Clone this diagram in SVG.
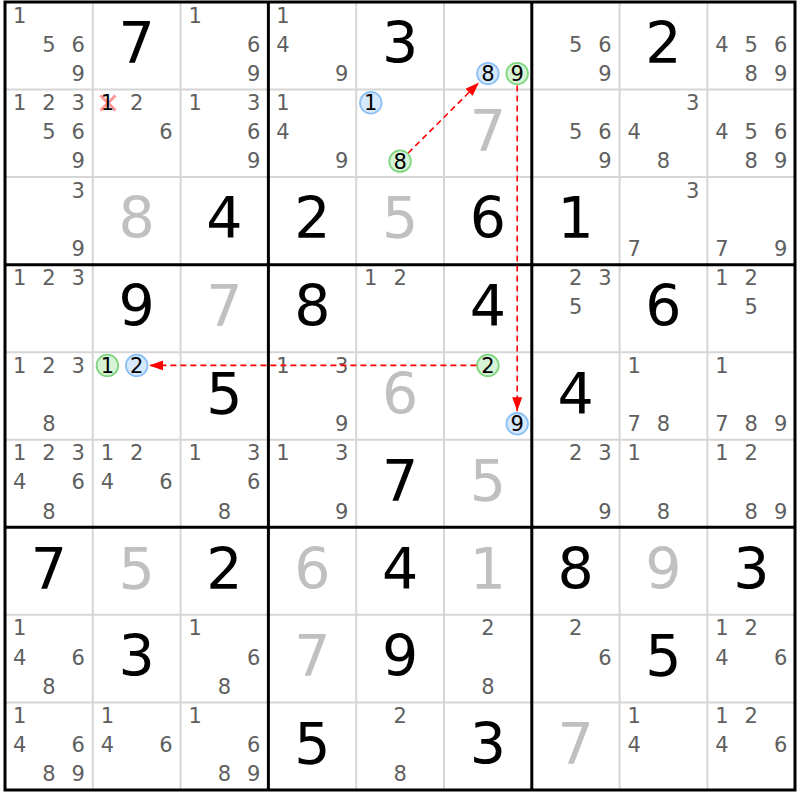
<svg xmlns="http://www.w3.org/2000/svg" width="800" height="800" viewBox="0 0 800 800">
<defs>
<style>
text{font-family:"DejaVu Sans",Verdana,sans-serif;text-anchor:middle}
.g{font-size:57px;fill:#000}
.s{font-size:57px;fill:#c0c0c0}
.c{font-size:21px;fill:#5f5f5f}
.k{font-size:21px;fill:#000}
.thin{stroke:#d6d6d6;stroke-width:2}
.thick{stroke:#000;stroke-width:3}
.cb{fill:#d6e9fc;stroke:#8cc0f4;stroke-width:1.8}
.cg{fill:#d6f3d6;stroke:#80d680;stroke-width:1.8}
.arr{fill:none;stroke:#ff0000;stroke-width:1.6;stroke-dasharray:6,4;marker-end:url(#ah)}
</style>
<marker id="ah" viewBox="0 0 14 10" refX="14" refY="5" markerWidth="14" markerHeight="10" markerUnits="userSpaceOnUse" orient="auto">
<path d="M0,0 L14,5 L0,10 z" fill="#ff0000"/>
</marker>
</defs>
<rect x="0" y="0" width="800" height="800" fill="#fff"/>
<g id="grid">
<path class="thin" d="M92.8,2V790M180.6,2V790M356.2,2V790M444,2V790M619.6,2V790M707.4,2V790M5,89.55H795M5,177.1H795M5,352.2H795M5,439.75H795M5,614.85H795M5,702.4H795"/>
<path class="thick" fill="none" d="M268.4,2V790M531.8,2V790M5,264.65H795M5,527.3H795"/>
<rect class="thick" fill="none" x="5" y="2" width="790" height="788"/>
</g>
<g id="r0">
<g id="r0c0"><text class="c" x="19.6" y="22.5">1</text><text class="c" x="48.9" y="51.7">5</text><text class="c" x="78.2" y="51.7">6</text><text class="c" x="78.2" y="80.9">9</text></g>
<g id="r0c1"><text class="g" x="136.7" y="63.3">7</text></g>
<g id="r0c2"><text class="c" x="195.2" y="22.5">1</text><text class="c" x="253.8" y="51.7">6</text><text class="c" x="253.8" y="80.9">9</text></g>
<g id="r0c3"><text class="c" x="283" y="22.5">1</text><text class="c" x="283" y="51.7">4</text><text class="c" x="341.6" y="80.9">9</text></g>
<g id="r0c4"><text class="g" x="400.1" y="63.3">3</text></g>
<g id="r0c5"><circle class="cb" cx="487.9" cy="73.6" r="10.8"/><text class="k" x="487.9" y="81.2">8</text><circle class="cg" cx="517.2" cy="73.6" r="10.8"/><text class="k" x="517.2" y="81.2">9</text></g>
<g id="r0c6"><text class="c" x="575.7" y="51.7">5</text><text class="c" x="605" y="51.7">6</text><text class="c" x="605" y="80.9">9</text></g>
<g id="r0c7"><text class="g" x="663.5" y="63.3">2</text></g>
<g id="r0c8"><text class="c" x="722" y="51.7">4</text><text class="c" x="751.3" y="51.7">5</text><text class="c" x="780.6" y="51.7">6</text><text class="c" x="751.3" y="80.9">8</text><text class="c" x="780.6" y="80.9">9</text></g>
</g>
<g id="r1">
<g id="r1c0"><text class="c" x="19.6" y="110.05">1</text><text class="c" x="48.9" y="110.05">2</text><text class="c" x="78.2" y="110.05">3</text><text class="c" x="48.9" y="139.25">5</text><text class="c" x="78.2" y="139.25">6</text><text class="c" x="78.2" y="168.45">9</text></g>
<g id="r1c1"><path d="M100.5,95.5L115.5,110.5M115.5,95.5L100.5,110.5" stroke="#ff8c8c" stroke-width="3" stroke-opacity="0.9"/><text class="k" x="107.4" y="110.05">1</text><text class="c" x="136.7" y="110.05">2</text><text class="c" x="166" y="139.25">6</text></g>
<g id="r1c2"><text class="c" x="195.2" y="110.05">1</text><text class="c" x="253.8" y="110.05">3</text><text class="c" x="253.8" y="139.25">6</text><text class="c" x="253.8" y="168.45">9</text></g>
<g id="r1c3"><text class="c" x="283" y="110.05">1</text><text class="c" x="283" y="139.25">4</text><text class="c" x="341.6" y="168.45">9</text></g>
<g id="r1c4"><circle class="cb" cx="370.8" cy="102.75" r="10.8"/><text class="k" x="370.8" y="110.35">1</text><circle class="cg" cx="400.1" cy="161.15" r="10.8"/><text class="k" x="400.1" y="168.75">8</text></g>
<g id="r1c5"><text class="s" x="487.9" y="150.85">7</text></g>
<g id="r1c6"><text class="c" x="575.7" y="139.25">5</text><text class="c" x="605" y="139.25">6</text><text class="c" x="605" y="168.45">9</text></g>
<g id="r1c7"><text class="c" x="692.8" y="110.05">3</text><text class="c" x="634.2" y="139.25">4</text><text class="c" x="663.5" y="168.45">8</text></g>
<g id="r1c8"><text class="c" x="722" y="139.25">4</text><text class="c" x="751.3" y="139.25">5</text><text class="c" x="780.6" y="139.25">6</text><text class="c" x="751.3" y="168.45">8</text><text class="c" x="780.6" y="168.45">9</text></g>
</g>
<g id="r2">
<g id="r2c0"><text class="c" x="78.2" y="197.6">3</text><text class="c" x="78.2" y="256">9</text></g>
<g id="r2c1"><text class="s" x="136.7" y="238.4">8</text></g>
<g id="r2c2"><text class="g" x="224.5" y="238.4">4</text></g>
<g id="r2c3"><text class="g" x="312.3" y="238.4">2</text></g>
<g id="r2c4"><text class="s" x="400.1" y="238.4">5</text></g>
<g id="r2c5"><text class="g" x="487.9" y="238.4">6</text></g>
<g id="r2c6"><text class="g" x="575.7" y="238.4">1</text></g>
<g id="r2c7"><text class="c" x="692.8" y="197.6">3</text><text class="c" x="634.2" y="256">7</text></g>
<g id="r2c8"><text class="c" x="722" y="256">7</text><text class="c" x="780.6" y="256">9</text></g>
</g>
<g id="r3">
<g id="r3c0"><text class="c" x="19.6" y="285.15">1</text><text class="c" x="48.9" y="285.15">2</text><text class="c" x="78.2" y="285.15">3</text></g>
<g id="r3c1"><text class="g" x="136.7" y="325.95">9</text></g>
<g id="r3c2"><text class="s" x="224.5" y="325.95">7</text></g>
<g id="r3c3"><text class="g" x="312.3" y="325.95">8</text></g>
<g id="r3c4"><text class="c" x="370.8" y="285.15">1</text><text class="c" x="400.1" y="285.15">2</text></g>
<g id="r3c5"><text class="g" x="487.9" y="325.95">4</text></g>
<g id="r3c6"><text class="c" x="575.7" y="285.15">2</text><text class="c" x="605" y="285.15">3</text><text class="c" x="575.7" y="314.35">5</text></g>
<g id="r3c7"><text class="g" x="663.5" y="325.95">6</text></g>
<g id="r3c8"><text class="c" x="722" y="285.15">1</text><text class="c" x="751.3" y="285.15">2</text><text class="c" x="751.3" y="314.35">5</text></g>
</g>
<g id="r4">
<g id="r4c0"><text class="c" x="19.6" y="372.7">1</text><text class="c" x="48.9" y="372.7">2</text><text class="c" x="78.2" y="372.7">3</text><text class="c" x="48.9" y="431.1">8</text></g>
<g id="r4c1"><circle class="cg" cx="107.4" cy="365.4" r="10.8"/><text class="k" x="107.4" y="373">1</text><circle class="cb" cx="136.7" cy="365.4" r="10.8"/><text class="k" x="136.7" y="373">2</text></g>
<g id="r4c2"><text class="g" x="224.5" y="413.5">5</text></g>
<g id="r4c3"><text class="c" x="283" y="372.7">1</text><text class="c" x="341.6" y="372.7">3</text><text class="c" x="341.6" y="431.1">9</text></g>
<g id="r4c4"><text class="s" x="400.1" y="413.5">6</text></g>
<g id="r4c5"><circle class="cg" cx="487.9" cy="365.4" r="10.8"/><text class="k" x="487.9" y="373">2</text><circle class="cb" cx="517.2" cy="423.8" r="10.8"/><text class="k" x="517.2" y="431.4">9</text></g>
<g id="r4c6"><text class="g" x="575.7" y="413.5">4</text></g>
<g id="r4c7"><text class="c" x="634.2" y="372.7">1</text><text class="c" x="634.2" y="431.1">7</text><text class="c" x="663.5" y="431.1">8</text></g>
<g id="r4c8"><text class="c" x="722" y="372.7">1</text><text class="c" x="722" y="431.1">7</text><text class="c" x="751.3" y="431.1">8</text><text class="c" x="780.6" y="431.1">9</text></g>
</g>
<g id="r5">
<g id="r5c0"><text class="c" x="19.6" y="460.25">1</text><text class="c" x="48.9" y="460.25">2</text><text class="c" x="78.2" y="460.25">3</text><text class="c" x="19.6" y="489.45">4</text><text class="c" x="78.2" y="489.45">6</text><text class="c" x="48.9" y="518.65">8</text></g>
<g id="r5c1"><text class="c" x="107.4" y="460.25">1</text><text class="c" x="136.7" y="460.25">2</text><text class="c" x="107.4" y="489.45">4</text><text class="c" x="166" y="489.45">6</text></g>
<g id="r5c2"><text class="c" x="195.2" y="460.25">1</text><text class="c" x="253.8" y="460.25">3</text><text class="c" x="253.8" y="489.45">6</text><text class="c" x="224.5" y="518.65">8</text></g>
<g id="r5c3"><text class="c" x="283" y="460.25">1</text><text class="c" x="341.6" y="460.25">3</text><text class="c" x="341.6" y="518.65">9</text></g>
<g id="r5c4"><text class="g" x="400.1" y="501.05">7</text></g>
<g id="r5c5"><text class="s" x="487.9" y="501.05">5</text></g>
<g id="r5c6"><text class="c" x="575.7" y="460.25">2</text><text class="c" x="605" y="460.25">3</text><text class="c" x="605" y="518.65">9</text></g>
<g id="r5c7"><text class="c" x="634.2" y="460.25">1</text><text class="c" x="663.5" y="518.65">8</text></g>
<g id="r5c8"><text class="c" x="722" y="460.25">1</text><text class="c" x="751.3" y="460.25">2</text><text class="c" x="751.3" y="518.65">8</text><text class="c" x="780.6" y="518.65">9</text></g>
</g>
<g id="r6">
<g id="r6c0"><text class="g" x="48.9" y="588.6">7</text></g>
<g id="r6c1"><text class="s" x="136.7" y="588.6">5</text></g>
<g id="r6c2"><text class="g" x="224.5" y="588.6">2</text></g>
<g id="r6c3"><text class="s" x="312.3" y="588.6">6</text></g>
<g id="r6c4"><text class="g" x="400.1" y="588.6">4</text></g>
<g id="r6c5"><text class="s" x="487.9" y="588.6">1</text></g>
<g id="r6c6"><text class="g" x="575.7" y="588.6">8</text></g>
<g id="r6c7"><text class="s" x="663.5" y="588.6">9</text></g>
<g id="r6c8"><text class="g" x="751.3" y="588.6">3</text></g>
</g>
<g id="r7">
<g id="r7c0"><text class="c" x="19.6" y="635.35">1</text><text class="c" x="19.6" y="664.55">4</text><text class="c" x="78.2" y="664.55">6</text><text class="c" x="48.9" y="693.75">8</text></g>
<g id="r7c1"><text class="g" x="136.7" y="676.15">3</text></g>
<g id="r7c2"><text class="c" x="195.2" y="635.35">1</text><text class="c" x="253.8" y="664.55">6</text><text class="c" x="224.5" y="693.75">8</text></g>
<g id="r7c3"><text class="s" x="312.3" y="676.15">7</text></g>
<g id="r7c4"><text class="g" x="400.1" y="676.15">9</text></g>
<g id="r7c5"><text class="c" x="487.9" y="635.35">2</text><text class="c" x="487.9" y="693.75">8</text></g>
<g id="r7c6"><text class="c" x="575.7" y="635.35">2</text><text class="c" x="605" y="664.55">6</text></g>
<g id="r7c7"><text class="g" x="663.5" y="676.15">5</text></g>
<g id="r7c8"><text class="c" x="722" y="635.35">1</text><text class="c" x="751.3" y="635.35">2</text><text class="c" x="722" y="664.55">4</text><text class="c" x="780.6" y="664.55">6</text></g>
</g>
<g id="r8">
<g id="r8c0"><text class="c" x="19.6" y="722.9">1</text><text class="c" x="19.6" y="752.1">4</text><text class="c" x="78.2" y="752.1">6</text><text class="c" x="48.9" y="781.3">8</text><text class="c" x="78.2" y="781.3">9</text></g>
<g id="r8c1"><text class="c" x="107.4" y="722.9">1</text><text class="c" x="107.4" y="752.1">4</text><text class="c" x="166" y="752.1">6</text></g>
<g id="r8c2"><text class="c" x="195.2" y="722.9">1</text><text class="c" x="253.8" y="752.1">6</text><text class="c" x="224.5" y="781.3">8</text><text class="c" x="253.8" y="781.3">9</text></g>
<g id="r8c3"><text class="g" x="312.3" y="763.7">5</text></g>
<g id="r8c4"><text class="c" x="400.1" y="722.9">2</text><text class="c" x="400.1" y="781.3">8</text></g>
<g id="r8c5"><text class="g" x="487.9" y="763.7">3</text></g>
<g id="r8c6"><text class="s" x="575.7" y="763.7">7</text></g>
<g id="r8c7"><text class="c" x="634.2" y="722.9">1</text><text class="c" x="634.2" y="752.1">4</text></g>
<g id="r8c8"><text class="c" x="722" y="722.9">1</text><text class="c" x="751.3" y="722.9">2</text><text class="c" x="722" y="752.1">4</text><text class="c" x="780.6" y="752.1">6</text></g>
</g>
<g id="connectors">
<path class="arr" d="M408.2,153.0L479.0,82.4"/>
<path class="arr" d="M517.2,85.6L517.2,411.3"/>
<path class="arr" d="M476.4,365.4L149.2,365.4"/>
</g>
</svg>
